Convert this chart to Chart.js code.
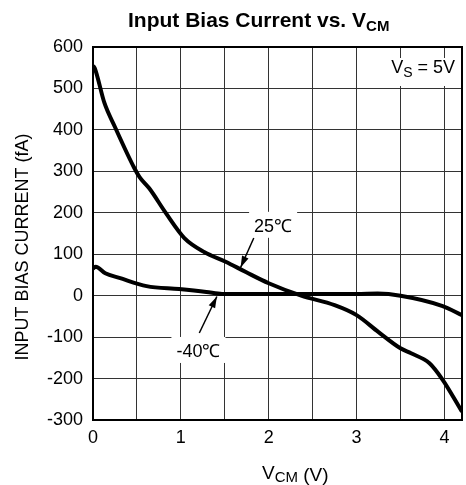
<!DOCTYPE html>
<html>
<head>
<meta charset="utf-8">
<script src="https://cdn.jsdelivr.net/npm/chart.js@4"></script>
<style>
  html, body { margin: 0; padding: 0; background: #fff; }
  #wrap { width: 466px; height: 485px; }
</style>
</head>
<body>
<div id="wrap"><canvas id="bias-chart" width="466" height="485"></canvas></div>
<script>
const FONT = '"Liberation Sans", Arial, sans-serif';

// 25C curve
const vcm25 = [0, 0.02, 0.13, 0.25, 0.47, 0.53, 0.64, 0.83, 1.04, 1.27, 1.51, 1.74, 2.0, 2.37, 2.75, 3.0, 3.25, 3.5, 3.62, 3.83, 3.98, 4.2];
const ib25 = [555, 549, 465, 407, 308, 286, 259, 199, 139, 105, 82, 57, 30, 0, -23, -47, -88, -127, -139, -163, -203, -280];

// -40C curve
const vcmM40 = [0, 0.03, 0.14, 0.3, 0.61, 0.98, 1.29, 1.47, 2.0, 2.5, 3.0, 3.24, 3.5, 3.98, 4.2];
const ibM40 = [65, 70, 54, 43, 23, 16, 9, 4, 4, 4, 4, 5, 0, -25, -47];

const xGridTicks = [0, 0.5, 1, 1.5, 2, 2.5, 3, 3.5, 4];
const xLabels = ['0', '', '1', '', '2', '', '3', '', '4'];

// labels: text, where the text sits, arrow from -> to (data units)
const notes = [
    {text: '25\u2103', x: 2.05, y: 171, from: [1.83, 139], to: [1.68, 68]},
    {text: '-40\u2103', x: 1.2, y: -131, from: [1.21, -90], to: [1.41, -2]}
];

function toXY(xs, ys) {
    return xs.map((v, i) => ({x: v, y: ys[i]}));
}

// writes pieces of text one after another, each with its own size and baseline shift
function runText(c, pieces, x, y, bold) {
    const w = bold ? 'bold ' : '';
    pieces.forEach(p => {
        c.font = w + p[1] + 'px ' + FONT;
        c.fillText(p[0], x, y + (p[2] || 0));
        x += c.measureText(p[0]).width;
    });
    return x;
}

function runWidth(c, pieces, bold) {
    const w = bold ? 'bold ' : '';
    let t = 0;
    pieces.forEach(p => {
        c.font = w + p[1] + 'px ' + FONT;
        t += c.measureText(p[0]).width;
    });
    return t;
}

const textPlugin = {
    id: 'texts',
    afterDraw(chart) {
        const c = chart.ctx;
        const xs = chart.scales.x, ys = chart.scales.y;
        const area = chart.chartArea;
        c.save();
        c.fillStyle = '#000';
        c.textBaseline = 'alphabetic';
        c.textAlign = 'left';

        // title
        const title = [['Input Bias Current vs. V', 21], ['CM', 15, 4]];
        runText(c, title, 128, 27, true);

        // x title
        runText(c, [['V', 19], ['CM', 15, 3], [' (V)', 19, 2]], 262, 479, false);

        // y title
        c.save();
        c.translate(28, 247);
        c.rotate(-Math.PI / 2);
        c.textAlign = 'center';
        c.font = '18px ' + FONT;
        c.fillText('INPUT BIAS CURRENT (fA)', 0, 0);
        c.restore();

        // VS box
        const vs = [['V', 18], ['S', 14, 4], [' = 5V', 18]];
        const tw = runWidth(c, vs, false);
        const bx = 455 - tw;
        c.fillStyle = '#fff';
        c.fillRect(bx - 6, 58, tw + 10, 28);
        c.fillStyle = '#000';
        runText(c, vs, bx, 73, false);

        // curve labels with arrows
        notes.forEach(n => {
            const px = xs.getPixelForValue(n.x), py = ys.getPixelForValue(n.y);
            c.font = '18px ' + FONT;
            const w = c.measureText(n.text).width;
            c.fillStyle = '#fff';
            c.fillRect(px - w / 2 - 5, py - 13, w + 10, 26);
            c.fillStyle = '#000';
            c.textAlign = 'center';
            c.fillText(n.text, px, py + 7);
            c.textAlign = 'left';

            const x1 = xs.getPixelForValue(n.from[0]), y1 = ys.getPixelForValue(n.from[1]);
            const x2 = xs.getPixelForValue(n.to[0]), y2 = ys.getPixelForValue(n.to[1]);
            c.strokeStyle = '#000';
            c.lineWidth = 1.5;
            c.beginPath();
            c.moveTo(x1, y1);
            c.lineTo(x2, y2);
            c.stroke();
            const ang = Math.atan2(y2 - y1, x2 - x1);
            c.beginPath();
            c.moveTo(x2, y2);
            c.lineTo(x2 - 12 * Math.cos(ang - 0.3), y2 - 12 * Math.sin(ang - 0.3));
            c.lineTo(x2 - 12 * Math.cos(ang + 0.3), y2 - 12 * Math.sin(ang + 0.3));
            c.closePath();
            c.fill();
        });
        c.restore();
    }
};

const ctx = document.getElementById('bias-chart').getContext('2d');
new Chart(ctx, {
    type: 'line',
    data: {
        datasets: [
            {
                label: '25C',
                data: toXY(vcm25, ib25),
                borderColor: '#000',
                borderWidth: 4,
                pointRadius: 0,
                cubicInterpolationMode: 'monotone'
            },
            {
                label: '-40C',
                data: toXY(vcmM40, ibM40),
                borderColor: '#000',
                borderWidth: 4,
                pointRadius: 0,
                cubicInterpolationMode: 'monotone'
            }
        ]
    },
    options: {
        responsive: false,
        animation: false,
        layout: {padding: {left: 0, right: 4, top: 47, bottom: 0}},
        plugins: {legend: {display: false}, tooltip: {enabled: false}},
        scales: {
            x: {
                type: 'linear',
                min: 0,
                max: 4.2,
                afterBuildTicks: s => { s.ticks = xGridTicks.map(v => ({value: v})); },
                afterFit: s => { s.height = 65; },
                ticks: {
                    color: '#000',
                    font: {family: FONT, size: 18},
                    padding: 7,
                    maxRotation: 0,
                    autoSkip: false,
                    callback: (v, i) => xLabels[i]
                },
                grid: {color: '#333', lineWidth: 1, drawTicks: false},
                border: {color: '#000', width: 2}
            },
            y: {
                min: -300,
                max: 600,
                afterFit: s => { s.width = 93; },
                ticks: {
                    stepSize: 100,
                    color: '#000',
                    font: {family: FONT, size: 18},
                    padding: 10
                },
                grid: {color: '#333', lineWidth: 1, drawTicks: false},
                border: {color: '#000', width: 2}
            }
        }
    },
    plugins: [textPlugin, {
        id: 'frame',
        afterDatasetsDraw(chart) {
            const a = chart.chartArea, c = chart.ctx;
            c.save();
            c.strokeStyle = '#000';
            c.lineWidth = 2;
            c.strokeRect(a.left, a.top, a.right - a.left, a.bottom - a.top);
            c.restore();
        }
    }]
});
</script>
</body>
</html>
